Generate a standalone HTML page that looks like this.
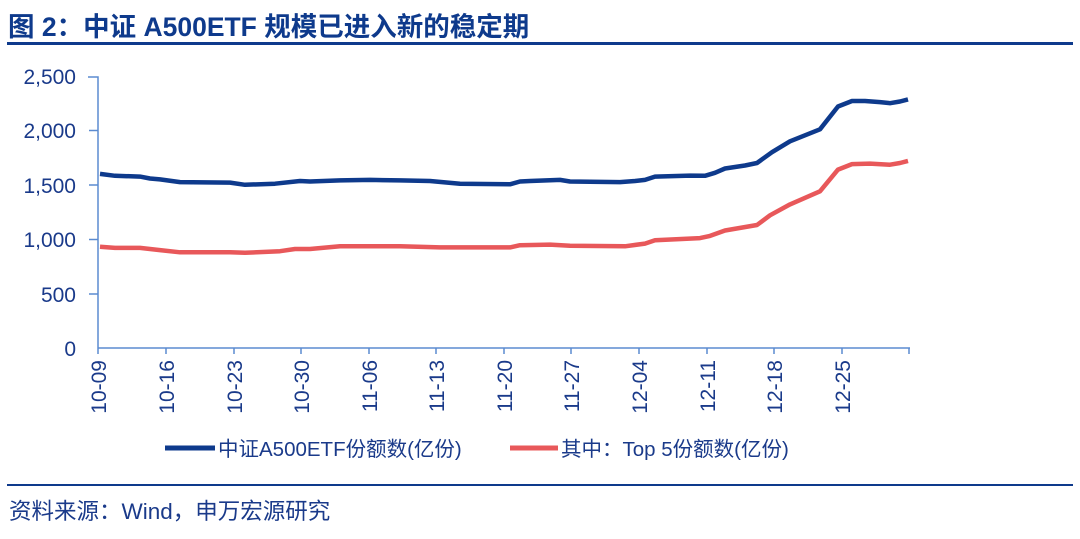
<!DOCTYPE html>
<html><head><meta charset="utf-8"><style>
body{margin:0;background:#fff;width:1080px;height:534px;overflow:hidden;font-family:"Liberation Sans","Noto Sans CJK SC",sans-serif}
</style></head><body>
<svg width="1080" height="534" xmlns="http://www.w3.org/2000/svg" font-family="Liberation Sans, Noto Sans CJK SC, sans-serif">
<text x="8" y="36" font-size="26.5" font-weight="bold" fill="#0e3a8c">图 2：中证 A500ETF 规模已进入新的稳定期</text>
<rect x="7" y="42" width="1066" height="3" fill="#0e3a8c"/>
<g font-size="21" fill="#1a3a8a" text-anchor="end">
<text x="76" y="84">2,500</text><text x="76" y="138">2,000</text><text x="76" y="193">1,500</text>
<text x="76" y="247">1,000</text><text x="76" y="302">500</text><text x="76" y="356">0</text>
</g>
<g stroke="#5b8bd0" stroke-width="1.5" fill="none">
<path d="M88 77H98V348"/><path d="M98 348H910"/>
<path d="M89 130.5H98M89 185H98M89 239.5H98M89 294H98"/>
<path d="M98 348v6M166 348v6M234 348v6M301 348v6M369 348v6M436 348v6M504 348v6M571 348v6M639 348v6M707 348v6M774 348v6M842 348v6M909 348v6"/>
</g>
<g font-size="21" fill="#1a3a8a" text-anchor="end">
<text transform="translate(106,360) rotate(-90)">10-09</text>
<text transform="translate(174,360) rotate(-90)">10-16</text>
<text transform="translate(242,360) rotate(-90)">10-23</text>
<text transform="translate(309,360) rotate(-90)">10-30</text>
<text transform="translate(377,360) rotate(-90)">11-06</text>
<text transform="translate(444,360) rotate(-90)">11-13</text>
<text transform="translate(512,360) rotate(-90)">11-20</text>
<text transform="translate(579,360) rotate(-90)">11-27</text>
<text transform="translate(647,360) rotate(-90)">12-04</text>
<text transform="translate(715,360) rotate(-90)">12-11</text>
<text transform="translate(782,360) rotate(-90)">12-18</text>
<text transform="translate(850,360) rotate(-90)">12-25</text>
</g>
<polyline fill="none" stroke="#0e3a8c" stroke-width="4.5" stroke-linejoin="round" points="100,173.9 115,175.8 140,176.6 150,178.5 160,179.4 180,182.1 230,182.6 245,184.8 275,183.7 300,181 310,181.5 340,180.4 370,179.9 400,180.4 430,181 460,183.7 510,184.3 520,181.5 530,181 560,179.9 570,181.5 620,182.1 635,181 645,179.9 655,176.6 690,175.6 705,175.8 715,172.8 725,168.5 745,165.5 757,163 772,152.2 790,141.3 820,129.3 838,106.5 852,101 865,101 880,102.1 890,103.2 900,101.5 908,99.4"/>
<polyline fill="none" stroke="#e8585a" stroke-width="4.5" stroke-linejoin="round" points="100,246.8 115,247.9 140,247.9 160,250.1 180,252.3 230,252.3 245,252.8 280,251.2 295,249 310,249 340,246.3 400,246.3 440,247.4 510,247.4 520,245.2 550,244.6 570,245.7 625,246.3 645,243.6 655,240.3 700,238.1 710,235.9 725,230.5 757,225 770,215.3 790,204.4 820,191.3 838,169.6 852,164.1 870,163.6 890,164.7 900,163 908,160.9"/>
<rect x="165" y="445.5" width="50" height="5" fill="#0e3a8c"/>
<text x="218" y="456" font-size="20.5" fill="#1a3a8a">中证A500ETF份额数(亿份)</text>
<rect x="510" y="445.5" width="48" height="5" fill="#e8585a"/>
<text x="561" y="456" font-size="20.5" fill="#1a3a8a">其中：Top 5份额数(亿份)</text>
<rect x="7" y="484" width="1066" height="2" fill="#0e3a8c"/>
<text x="9" y="519" font-size="22.5" fill="#1a3a8a">资料来源：Wind，申万宏源研究</text>
</svg>
</body></html>
